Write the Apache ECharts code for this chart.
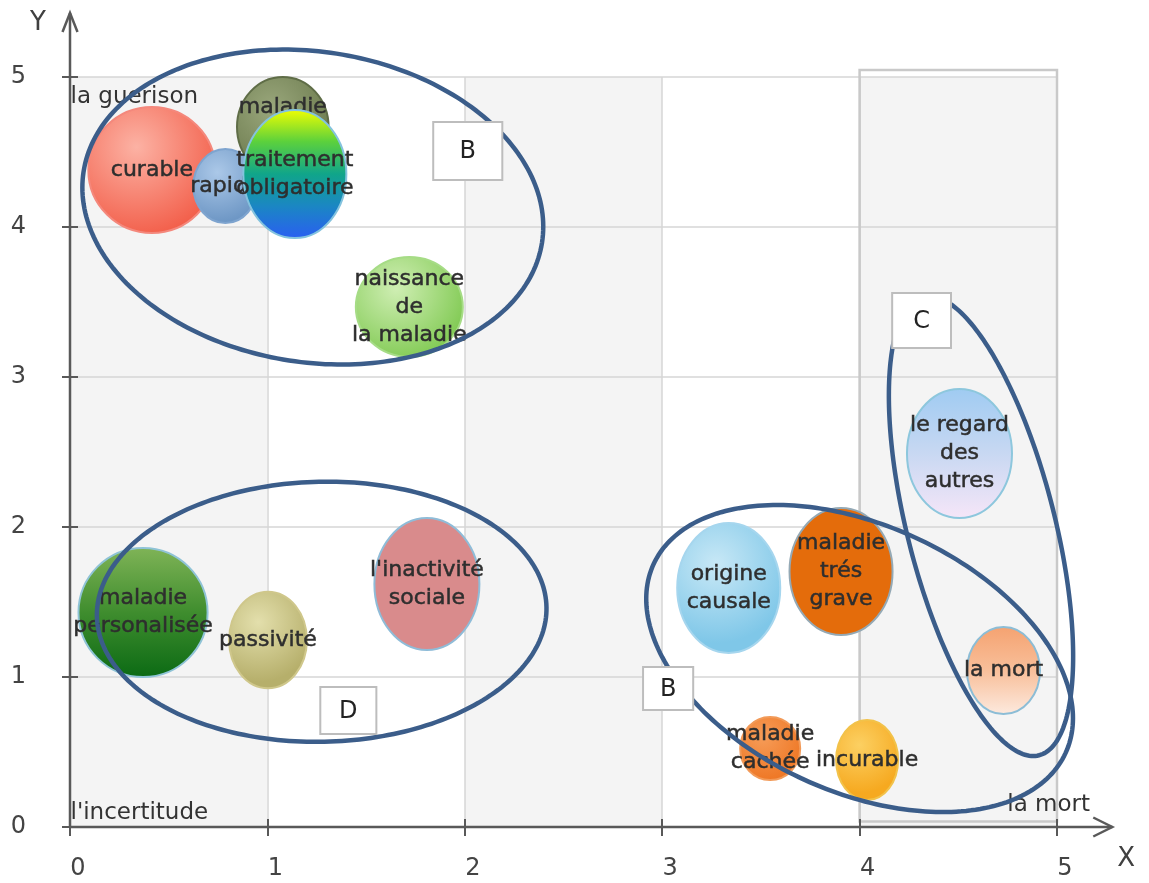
<!DOCTYPE html>
<html>
<head>
<meta charset="utf-8">
<script src="https://cdn.jsdelivr.net/npm/echarts@6/dist/echarts.min.js"></script>
<style>html,body{margin:0;padding:0;background:#fff}#chart{width:1149px;height:883px}</style>
</head>
<body>
<div id="chart"></div>
<script>
// ---------- data ----------
const bubbleNames = ['curable', 'rapide', 'maladie', 'naissance\nde\nla maladie',
  'maladie\npersonalisée', 'passivité', "l'inactivité\nsociale", 'origine\ncausale',
  'maladie\ntrés\ngrave', 'le regard\ndes\nautres', 'la mort', 'maladie\ncachée',
  'incurable', 'traitement\nobligatoire'];
const bubbleX  = [0.415, 0.787, 1.078, 1.719, 0.370, 1.003, 1.808, 3.337, 3.906, 4.506, 4.729, 3.547, 4.038, 1.139];
const bubbleY  = [4.380, 4.273, 4.667, 3.467, 1.430, 1.247, 1.620, 1.593, 1.703, 2.490, 1.043, 0.523, 0.447, 4.353];
// half extents of each bubble, in axis units (x units, y units)
const bubbleRx = [0.322, 0.162, 0.232, 0.271, 0.327, 0.197, 0.266, 0.261, 0.261, 0.266, 0.185, 0.152, 0.157, 0.261];
const bubbleRy = [0.420, 0.247, 0.333, 0.333, 0.430, 0.322, 0.440, 0.433, 0.423, 0.430, 0.290, 0.210, 0.267, 0.427];

// group outlines: centre, half axes (axis units), tilt in degrees
const groupX    = [1.230, 1.275, 4.000, 4.615];
const groupY    = [4.133, 1.435, 1.123, 2.007];
const groupRx   = [1.175, 1.139, 1.148, 0.374];
const groupRy   = [1.035, 0.867, 0.888, 1.577];
const groupTilt = [8.8, -1.2, 24.6, -14.2];

// group letters
const boxLabels = ['B', 'C', 'D', 'B'];
const boxX      = [2.015, 4.314, 1.410, 3.030];
const boxY      = [4.507, 3.377, 0.777, 0.923];
const boxHalfW  = [0.175, 0.149, 0.142, 0.127];
const boxHalfH  = [0.193, 0.183, 0.157, 0.143];

// corner captions
const cornerLabels = ['la guerison', "l'incertitude", 'la mort'];
const cornerX = [0, 0, 5];
const cornerY = [5, 0, 0];

// highlighted zone (x from, y top, x to, y bottom)
const zoneBounds = [4, 5.047, 5, 0.037];

const axisMin = 0, axisMax = 5, axisStep = 1;
const axisEndX = 5.28, axisEndY = 5.427;

// ---------- styles ----------
const G = echarts.graphic;
function lin(stops) {
  return new G.LinearGradient(0, 0, 0, 1, stops.map((c, i) => ({offset: i / (stops.length - 1), color: c})));
}
function rad(c1, c2) {
  return new G.RadialGradient(0.38, 0.32, 0.75, [{offset: 0, color: c1}, {offset: 1, color: c2}]);
}
const bubbleStyles = {
  'curable': [rad('#fcb2a4', '#f25a45'), '#f4887c'],
  'rapide': [rad('#abc8e8', '#6e97c5'), '#7ea4cf'],
  'maladie': [rad('#9aa77c', '#69784b'), '#5f6d47'],
  'traitement\nobligatoire': [lin(['#f2ff00', '#5cd13c', '#10a58a', '#1b86c4', '#2a5ef2']), '#84c3de'],
  'naissance\nde\nla maladie': [rad('#cfeeb3', '#7fc951'), '#a6dc86'],
  'maladie\npersonalisée': [lin(['#80b457', '#3f8d2e', '#0b6a14']), '#8fc3d6'],
  'passivité': [rad('#e3dfac', '#b6af6b'), '#cfc78b'],
  "l'inactivité\nsociale": ['#d98b8c', '#8fbcd8'],
  'origine\ncausale': [rad('#c8e8f6', '#7fc7e8'), '#a6d6ee'],
  'maladie\ntrés\ngrave': ['#e46c0b', '#94a9b5'],
  'le regard\ndes\nautres': [lin(['#9fcbf2', '#c8d8f2', '#f6e6f8']), '#8dc7dd'],
  'la mort': [lin(['#f5a270', '#f8bf9a', '#fdeadf']), '#8cbdd6'],
  'maladie\ncachée': [rad('#f69c58', '#ee7522'), '#f29a58'],
  'incurable': [rad('#fcd062', '#f6a920'), '#f2c24a']
};
const labelShift = {'maladie': [0, -20]};
const textColor = '#2e2e2e';
const FONT = '"DejaVu Sans", "Liberation Sans", sans-serif';

// ---------- series builders ----------
function bubbleSeries(indices, z) {
  return {
    type: 'custom', z: z, clip: false, silent: true,
    data: indices.map(i => [bubbleX[i], bubbleY[i], bubbleRx[i], bubbleRy[i]]),
    renderItem: function (params, api) {
      const gi = indices[params.dataIndex];
      const name = bubbleNames[gi];
      const c = api.coord([api.value(0), api.value(1)]);
      const s = api.size([api.value(2), api.value(3)]);
      const st = bubbleStyles[name];
      const sh = labelShift[name] || [0, 0];
      return {
        type: 'group',
        children: [
          {type: 'ellipse', z2: 0, shape: {cx: c[0], cy: c[1], rx: s[0], ry: s[1]},
           style: {fill: st[0], stroke: st[1], lineWidth: 2}},
          {type: 'text', z2: 10, x: c[0] + sh[0], y: c[1] + sh[1],
           style: {text: name, fill: textColor, stroke: textColor, lineWidth: 0.5,
                   fontSize: 22, fontFamily: FONT,
                   align: 'center', verticalAlign: 'middle', lineHeight: 28}}
        ]
      };
    }
  };
}

const backIdx = [], frontIdx = [];
bubbleNames.forEach((n, i) => (n === 'traitement\nobligatoire' ? frontIdx : backIdx).push(i));

function axisBase(extra) {
  return Object.assign({
    type: 'value', min: axisMin, max: axisMax, interval: axisStep
  }, extra);
}

const chart = echarts.init(document.getElementById('chart'));
chart.setOption({
  backgroundColor: '#ffffff',
  animation: false,
  grid: {left: 70, right: 92, top: 77, bottom: 56, containLabel: false, outerBoundsMode: 'none'},
  xAxis: [
    axisBase({
      position: 'bottom', z: 0,
      axisLine: {show: true, lineStyle: {color: '#595959', width: 2}},
      axisTick: {show: true, inside: false, length: 9, lineStyle: {color: '#595959', width: 2}},
      axisLabel: {fontSize: 24, fontFamily: FONT, color: '#444444', margin: 30, padding: [0, 0, 0, 16]},
      splitLine: {show: true, lineStyle: {color: '#d6d6d6', width: 1.5}},
      splitArea: {show: true, areaStyle: {color: ['#f4f4f4', '#ffffff']}}
    }),
    axisBase({
      position: 'bottom', z: 1,
      axisLine: {show: false},
      axisTick: {show: true, inside: true, length: 8, lineStyle: {color: '#595959', width: 2}},
      axisLabel: {show: false}, splitLine: {show: false}, splitArea: {show: false}
    })
  ],
  yAxis: [
    axisBase({
      position: 'left', z: 1,
      axisLine: {show: true, lineStyle: {color: '#595959', width: 2}},
      axisTick: {show: true, inside: false, length: 8, lineStyle: {color: '#595959', width: 2}},
      axisLabel: {fontSize: 24, fontFamily: FONT, color: '#444444', margin: 44},
      splitLine: {show: true, lineStyle: {color: '#d6d6d6', width: 1.5}},
      splitArea: {show: false}
    }),
    axisBase({
      position: 'left', z: 1,
      axisLine: {show: false},
      axisTick: {show: true, inside: true, length: 8, lineStyle: {color: '#595959', width: 2}},
      axisLabel: {show: false}, splitLine: {show: false}, splitArea: {show: false}
    })
  ],
  series: [
    // highlighted zone frame
    {
      type: 'custom', z: 1, clip: false, silent: true,
      data: [zoneBounds],
      renderItem: function (params, api) {
        const p1 = api.coord([api.value(0), api.value(1)]);
        const p2 = api.coord([api.value(2), api.value(3)]);
        return {type: 'rect', shape: {x: p1[0], y: p1[1], width: p2[0] - p1[0], height: p2[1] - p1[1]},
                style: {fill: 'rgba(0,0,0,0)', stroke: '#c9c9c9', lineWidth: 2.5}};
      }
    },
    bubbleSeries(backIdx, 2),
    bubbleSeries(frontIdx, 3),
    // corner captions
    {
      type: 'custom', z: 3, clip: false, silent: true,
      data: cornerLabels.map((t, i) => [cornerX[i], cornerY[i]]),
      renderItem: function (params, api) {
        const i = params.dataIndex;
        const c = api.coord([api.value(0), api.value(1)]);
        const cfg = [[0.5, 20, 'left'], [0.5, -14, 'left'], [33, -22, 'right']][i];
        return {type: 'text', x: c[0] + cfg[0], y: c[1] + cfg[1],
                style: {text: cornerLabels[i], fill: '#333333', fontSize: 23, fontFamily: FONT,
                        align: cfg[2], verticalAlign: 'middle'}};
      }
    },
    // group outlines
    {
      type: 'custom', z: 4, clip: false, silent: true,
      data: groupX.map((x, i) => [x, groupY[i], groupRx[i], groupRy[i], groupTilt[i]]),
      renderItem: function (params, api) {
        const c = api.coord([api.value(0), api.value(1)]);
        const s = api.size([api.value(2), api.value(3)]);
        const th = api.value(4) * Math.PI / 180;
        const pts = [];
        for (let k = 0; k < 240; k++) {
          const t = k / 240 * 2 * Math.PI;
          const X = s[0] * Math.cos(t), Y = s[1] * Math.sin(t);
          pts.push([c[0] + X * Math.cos(th) - Y * Math.sin(th), c[1] + X * Math.sin(th) + Y * Math.cos(th)]);
        }
        return {type: 'polygon', shape: {points: pts},
                style: {fill: 'rgba(0,0,0,0)', stroke: '#3b5d8a', lineWidth: 4.5}};
      }
    },
    // group letter boxes
    {
      type: 'custom', z: 5, clip: false, silent: true,
      data: boxLabels.map((t, i) => [boxX[i], boxY[i], boxHalfW[i], boxHalfH[i]]),
      renderItem: function (params, api) {
        const c = api.coord([api.value(0), api.value(1)]);
        const s = api.size([api.value(2), api.value(3)]);
        return {
          type: 'group',
          children: [
            {type: 'rect', shape: {x: c[0] - s[0], y: c[1] - s[1], width: 2 * s[0], height: 2 * s[1]},
             style: {fill: '#ffffff', stroke: '#bdbdbd', lineWidth: 2}},
            {type: 'text', x: c[0], y: c[1] + 1,
             style: {text: boxLabels[params.dataIndex], fill: '#222', fontSize: 24, fontFamily: FONT,
                     align: 'center', verticalAlign: 'middle'}}
          ]
        };
      }
    },
    // axis extensions with open arrow heads and axis titles
    {
      type: 'custom', z: 5, clip: false, silent: true,
      data: [[0, 0]],
      renderItem: function (params, api) {
        const o = api.coord([axisMin, axisMin]);
        const xe = api.coord([axisEndX, axisMin]);
        const ye = api.coord([axisMin, axisEndY]);
        const ls = {stroke: '#595959', lineWidth: 2.5, fill: 'none'};
        return {
          type: 'group',
          children: [
            {type: 'polyline', shape: {points: [o, xe]}, style: ls},
            {type: 'polyline', shape: {points: [[xe[0] - 19, xe[1] - 9.5], xe, [xe[0] - 19, xe[1] + 9.5]]}, style: ls},
            {type: 'polyline', shape: {points: [o, ye]}, style: ls},
            {type: 'polyline', shape: {points: [[ye[0] - 7.5, ye[1] + 19], ye, [ye[0] + 7.5, ye[1] + 19]]}, style: ls},
            {type: 'text', x: ye[0] - 32, y: ye[1] + 10,
             style: {text: 'Y', fill: '#404040', fontSize: 26, fontFamily: FONT, align: 'center', verticalAlign: 'middle'}},
            {type: 'text', x: xe[0] + 14, y: xe[1] + 32,
             style: {text: 'X', fill: '#404040', fontSize: 26, fontFamily: FONT, align: 'center', verticalAlign: 'middle'}}
          ]
        };
      }
    }
  ]
});
</script>
</body>
</html>
